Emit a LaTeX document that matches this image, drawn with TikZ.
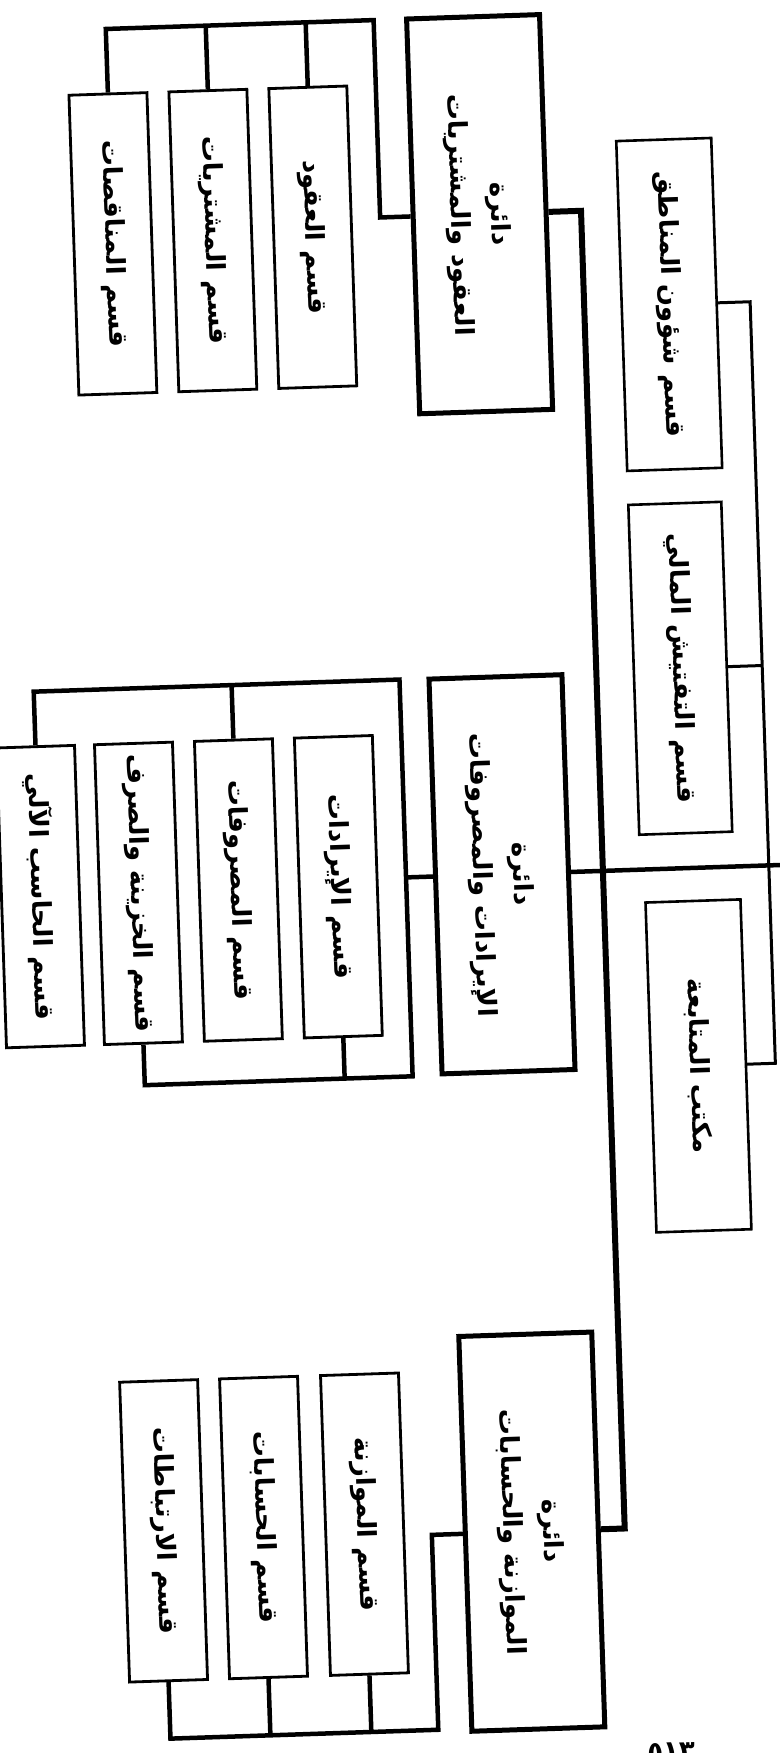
\documentclass[tikz,border=0pt]{standalone}
\usepackage{fontspec}
\TeXXeTstate=1
\newfontfamily\arabicfont[Script=Arabic]{DejaVu Sans}
\newcommand\artxt[1]{\rotatebox{-90}{\fontsize{26}{38}\selectfont\arabicfont\bfseries #1}}
\newcommand\artwo[2]{\rotatebox{-90}{\fontsize{26}{40}\selectfont\arabicfont\bfseries\begin{tabular}{@{}c@{}}#1\\#2\end{tabular}}}
\tikzset{
  dirbox/.style={draw, line width=5pt, minimum width=133pt, minimum height=395pt, inner sep=0pt, line join=miter},
  subbox/.style={draw, line width=2.8pt, minimum width=78pt, minimum height=300pt, inner sep=0pt, line join=miter},
  sidebox/.style={draw, line width=2.6pt, minimum width=95pt, minimum height=330pt, inner sep=0pt, line join=miter},
  bus/.style={line width=4.5pt, line join=miter},
  spine/.style={line width=6pt, line join=miter},
  sideline/.style={line width=3pt, line join=miter},
}
\begin{document}
\begin{tikzpicture}[x=1pt,y=1pt]
\fill[white] (0,0) rectangle (779,-1753);
\useasboundingbox (0,0) rectangle (779,-1753);
\begin{scope}[rotate around={1.9:(390,-876)}, transform shape]
% directorates
\node[dirbox] (d1) at (501.5,-217.5) {\artwo{\beginR دائرة\endR}{\beginR العقود والمشتريات\endR}};
\node[dirbox] (d2) at (502,-878) {\artwo{\beginR دائرة\endR}{\beginR الإيرادات والمصروفات\endR}};
\node[dirbox] (d3) at (510,-1536) {\artwo{\beginR دائرة\endR}{\beginR الموازنة والحسابات\endR}};
% group 1
\node[subbox] (s11) at (134,-235) {\artxt{\beginR قسم المناقصات\endR}};
\node[subbox] (s12) at (234,-235) {\artxt{\beginR قسم المشتريات\endR}};
\node[subbox] (s13) at (334,-235) {\artxt{\beginR قسم العقود\endR}};
% group 2
\node[subbox] (s21) at (40,-885) {\artxt{\beginR قسم الحاسب الآلي\endR}};
\node[subbox] (s22) at (138,-885) {\artxt{\beginR قسم الخزينة والصرف\endR}};
\node[subbox] (s23) at (238,-885) {\artxt{\beginR قسم المصروفات\endR}};
\node[subbox] (s24) at (338,-885) {\artxt{\beginR قسم الإيرادات\endR}};
% group 3
\node[subbox] (s31) at (142,-1523) {\artxt{\beginR قسم الارتباطات\endR}};
\node[subbox] (s32) at (242,-1523) {\artxt{\beginR قسم الحسابات\endR}};
\node[subbox] (s33) at (343,-1523) {\artxt{\beginR قسم الموازنة\endR}};
% right column
\node[sidebox] (r1) at (688,-314) {\artxt{\beginR قسم شؤون المناطق\endR}};
\node[sidebox, minimum width=93pt] (r2) at (687,-678) {\artxt{\beginR قسم التفتيش المالي\endR}};
\node[sidebox] (r3) at (692,-1076) {\artxt{\beginR مكتب المتابعة\endR}};
% page number
\node[inner sep=0pt] (pg) at (642,-1760) {\fontsize{26}{30}\selectfont\arabicfont\bfseries ٥١٣};
% coordinates
\coordinate (b1) at (402,-20);
\coordinate (b2t) at (406,-680);
\coordinate (b2b) at (406,-1077);
\coordinate (b3) at (410,-1731);
\coordinate (sp) at (603,0);
\coordinate (rv) at (769,0);
\coordinate (edge) at (830,0);
% group 1 connectors
\draw[bus] (s11.north) |- (b1) |- (d1.west);
\draw[bus] (s12.north) -- (s12.north |- b1);
\draw[bus] (s13.north) -- (s13.north |- b1);
% group 2 connectors
\draw[bus] (s21.north) |- (b2t) -- (b2b) -| (s22.south);
\draw[bus] (s23.north) -- (s23.north |- b2t);
\draw[bus] (s24.south) -- (s24.south |- b2b);
\draw[bus] (b2t |- d2.west) -- (d2.west);
% group 3 connectors
\draw[bus] (s31.south) |- (b3) |- (d3.west);
\draw[bus] (s32.south) -- (s32.south |- b3);
\draw[bus] (s33.south) -- (s33.south |- b3);
% spine
\draw[spine] (d1.east) -| (sp |- d3.east) -- (d3.east);
\draw[bus] (d2.east) -- (d2.east -| edge);
% right column
\draw[sideline] (r1.east) -| (rv |- r3.east) -- (r3.east);
\draw[sideline] (r2.east) -- (r2.east -| rv);
\end{scope}
\end{tikzpicture}
\end{document}
